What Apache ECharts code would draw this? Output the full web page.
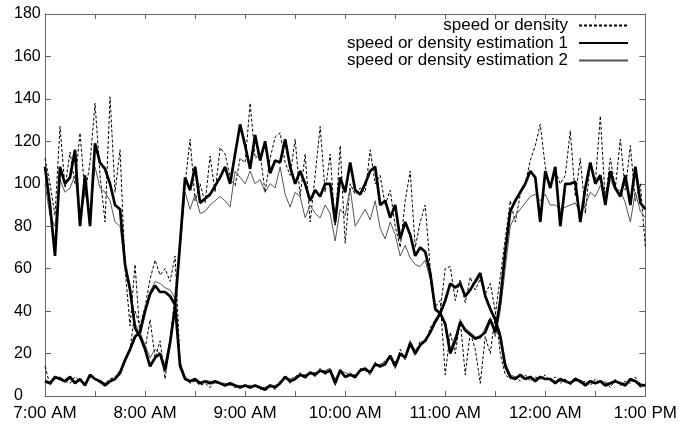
<!DOCTYPE html>
<html>
<head>
    <meta charset="utf-8">
    <title>speed or density</title>
    <script src="https://cdn.jsdelivr.net/npm/echarts@6/dist/echarts.min.js"></script>
    <style>
        html, body { margin: 0; padding: 0; background: #fff; }
        #main { width: 680px; height: 424px; }
    </style>
</head>
<body>
<div id="main"></div>
<script>
    // minutes after 7:00 AM, one sample every 3 minutes
    var stepMin = 3;
    var hourLabels = ['7:00 AM', '8:00 AM', '9:00 AM', '10:00 AM', '11:00 AM', '12:00 AM', '1:00 PM'];
    var legendNames = ['speed or density', 'speed or density estimation 1', 'speed or density estimation 2'];

    // measured (dashed)
    var measSpeed = [
        112, 100, 85, 127, 98, 115, 100, 124, 95, 110, 138, 104, 82, 141, 96, 116, 60, 33, 62, 28, 22,
        36, 18, 26, 8, 26, 48, 70, 100, 121, 92, 100, 91, 113, 96, 117, 114, 103, 99, 112, 110,
        138, 112, 114, 96, 112, 122, 124, 110, 104, 121, 94, 114, 82, 104, 127, 96, 114, 80, 118, 72,
        100, 95, 98, 96, 116, 100, 104, 90, 97, 80, 70, 92, 106, 70, 82, 90, 60, 42, 45, 10,
        30, 20, 36, 10, 30, 22, 6, 28, 20, 38, 56, 74, 92, 82, 95, 100, 111, 118, 128, 108,
        98, 106, 100, 104, 125, 94, 112, 86, 110, 100, 132, 92, 112, 98, 121, 97, 118, 92, 100, 70
    ];
    var measDensity = [
        14, 5, 8, 9, 7, 6, 9, 7, 5, 9, 8, 6, 6, 8, 9, 12, 16, 22, 40, 33, 42,
        55, 64, 57, 60, 54, 66, 16, 9, 6, 7, 5, 6, 4, 7, 6, 5, 6, 4, 4, 5,
        4, 5, 3, 4, 5, 3, 7, 9, 6, 9, 11, 8, 12, 9, 13, 10, 13, 5, 13, 9,
        11, 8, 13, 12, 10, 16, 13, 17, 18, 13, 22, 17, 26, 19, 26, 25, 32, 36, 40, 60,
        61, 45, 55, 44, 56, 50, 55, 48, 53, 40, 20, 10, 8, 9, 7, 10, 7, 9, 8, 10,
        7, 9, 6, 8, 5, 9, 6, 7, 5, 8, 6, 7, 4, 8, 5, 7, 6, 9, 4, 6
    ];

    // estimation 1 (thick)
    var est1Speed = [
        108, 90, 66, 108, 100, 103, 116, 80, 104, 80, 119, 110, 107, 100, 90, 88, 62, 50, 32, 28, 22,
        14, 18, 20, 12, 25, 42, 72, 103, 97, 108, 91, 93, 95, 99, 103, 108, 100, 114, 128, 118,
        107, 123, 111, 120, 105, 111, 110, 121, 108, 100, 106, 100, 92, 97, 94, 100, 100, 82, 103, 96,
        110, 97, 95, 100, 106, 108, 90, 92, 84, 90, 74, 82, 76, 66, 70, 68, 58, 41, 39, 34,
        20, 26, 35, 31, 29, 27, 28, 30, 36, 30, 45, 68, 87, 92, 96, 100, 106, 103, 82, 106,
        98, 108, 80, 100, 100, 101, 82, 98, 110, 100, 104, 90, 106, 98, 94, 104, 90, 108, 91, 88
    ];
    var est1Density = [
        7, 6, 9, 8, 7, 9, 6, 8, 5, 10, 8, 7, 5, 7, 8, 11, 17, 22, 28, 30, 40,
        48, 52, 49, 49, 47, 43, 14, 8, 7, 8, 6, 7, 6, 7, 6, 5, 6, 5, 4, 5,
        4, 5, 4, 3, 5, 4, 6, 9, 7, 8, 10, 9, 11, 10, 12, 11, 12, 6, 12, 9,
        10, 9, 12, 13, 11, 15, 14, 15, 19, 14, 20, 18, 25, 20, 24, 26, 30, 35, 39, 45,
        53, 51, 53, 47, 50, 54, 58, 47, 41, 36, 28, 14, 9, 8, 10, 8, 9, 7, 9, 8,
        8, 6, 8, 7, 6, 8, 7, 5, 7, 6, 7, 5, 6, 7, 6, 5, 8, 7, 5, 5
    ];

    // estimation 2 (thin)
    var est2Speed = [
        100, 85, 80, 102, 96, 98, 104, 84, 96, 86, 108, 98, 96, 92, 82, 80, 62, 52, 34, 30, 24,
        18, 22, 20, 15, 27, 44, 70, 96, 88, 95, 86, 87, 90, 92, 94, 92, 89, 106, 103, 100,
        106, 100, 102, 96, 100, 98, 108, 95, 89, 96, 94, 84, 90, 86, 84, 90, 86, 73, 88, 85,
        98, 80, 84, 88, 83, 92, 79, 74, 82, 76, 66, 71, 65, 62, 61, 64, 55, 40, 39, 33,
        22, 28, 34, 32, 30, 28, 27, 32, 37, 28, 40, 60, 80, 85, 88, 91, 94, 95, 92, 95,
        90, 90, 88, 89, 90, 91, 86, 90, 96, 94, 99, 96, 102, 97, 97, 91, 82, 96, 87, 84
    ];
    var est2Density = [
        8, 6, 8, 9, 7, 8, 7, 7, 6, 9, 8, 7, 6, 7, 8, 10, 16, 21, 27, 31, 40,
        49, 54, 53, 51, 50, 46, 16, 9, 7, 7, 6, 7, 7, 6, 6, 6, 5, 5, 5, 5,
        5, 5, 4, 4, 5, 5, 6, 8, 8, 9, 10, 10, 11, 11, 12, 12, 13, 8, 12, 11,
        10, 10, 12, 12, 12, 14, 15, 16, 18, 16, 19, 19, 23, 22, 24, 27, 30, 34, 38, 44,
        52, 52, 52, 48, 50, 53, 56, 48, 42, 36, 30, 16, 10, 9, 9, 8, 9, 8, 9, 8,
        8, 7, 7, 7, 6, 7, 7, 6, 7, 6, 7, 6, 6, 7, 6, 6, 7, 7, 6, 5
    ];

    function pairs(arr) {
        return arr.map(function (v, i) {
            return [i * stepMin, v];
        });
    }

    var font = 'Liberation Sans, Arial, Helvetica, sans-serif';
    var frame = '#666';

    var dashedStyle = {color: '#000', width: 1, type: [3, 2]};
    var thickStyle = {color: '#000', width: 2.7};
    var thinStyle = {color: '#555', width: 1};

    function line(name, arr, style, z) {
        return {
            name: name,
            type: 'line',
            data: pairs(arr),
            symbol: 'none',
            showSymbol: false,
            animation: false,
            lineStyle: style,
            // only the legend would show a symbol; keep it invisible
            itemStyle: {color: style.color, opacity: 0},
            z: z
        };
    }

    var myChart = echarts.init(document.getElementById('main'));
    myChart.setOption({
        backgroundColor: '#fff',
        animation: false,
        textStyle: {fontFamily: font},
        grid: {left: 45, right: 30, top: 14, bottom: 28},
        legend: {
            orient: 'vertical',
            right: 51,
            top: 17,
            padding: 0,
            align: 'right',
            itemWidth: 49,
            itemHeight: 14,
            itemGap: 0.5,
            data: legendNames,
            itemStyle: {opacity: 0},
            textStyle: {fontSize: 17, color: '#000', fontFamily: font, lineHeight: 16, padding: [0, 6, 0, 0]}
        },
        xAxis: [{
            type: 'value',
            min: 0,
            max: 360,
            interval: 30,
            splitLine: {show: false},
            axisLine: {onZero: false, lineStyle: {color: frame, width: 1}},
            axisTick: {inside: true, length: 5, lineStyle: {color: frame}},
            axisLabel: {
                color: '#000',
                fontSize: 17,
                fontFamily: font,
                margin: 9,
                showMinLabel: true,
                showMaxLabel: true,
                formatter: function (v) {
                    return v % 60 === 0 ? hourLabels[v / 60] : '';
                }
            }
        }, {
            type: 'value',
            position: 'top',
            min: 0,
            max: 360,
            interval: 30,
            splitLine: {show: false},
            axisLine: {onZero: false, lineStyle: {color: frame, width: 1}},
            axisTick: {inside: true, length: 5, lineStyle: {color: frame}},
            axisLabel: {show: false}
        }],
        yAxis: [{
            type: 'value',
            min: 0,
            max: 180,
            interval: 20,
            splitLine: {show: false},
            axisLine: {show: true, onZero: false, lineStyle: {color: frame, width: 1}},
            axisTick: {show: true, inside: true, length: 6, lineStyle: {color: frame}},
            axisLabel: {color: '#000', fontSize: 16, fontFamily: font, margin: 31, align: 'left'}
        }, {
            type: 'value',
            position: 'right',
            min: 0,
            max: 180,
            interval: 20,
            splitLine: {show: false},
            axisLine: {show: true, onZero: false, lineStyle: {color: frame, width: 1}},
            axisTick: {show: true, inside: true, length: 6, lineStyle: {color: frame}},
            axisLabel: {show: false}
        }],
        series: [
            line(legendNames[0], measSpeed, dashedStyle, 2),
            line(legendNames[0], measDensity, dashedStyle, 2),
            line(legendNames[2], est2Speed, thinStyle, 3),
            line(legendNames[2], est2Density, thinStyle, 3),
            line(legendNames[1], est1Speed, thickStyle, 4),
            line(legendNames[1], est1Density, thickStyle, 4)
        ]
    });
</script>
</body>
</html>
